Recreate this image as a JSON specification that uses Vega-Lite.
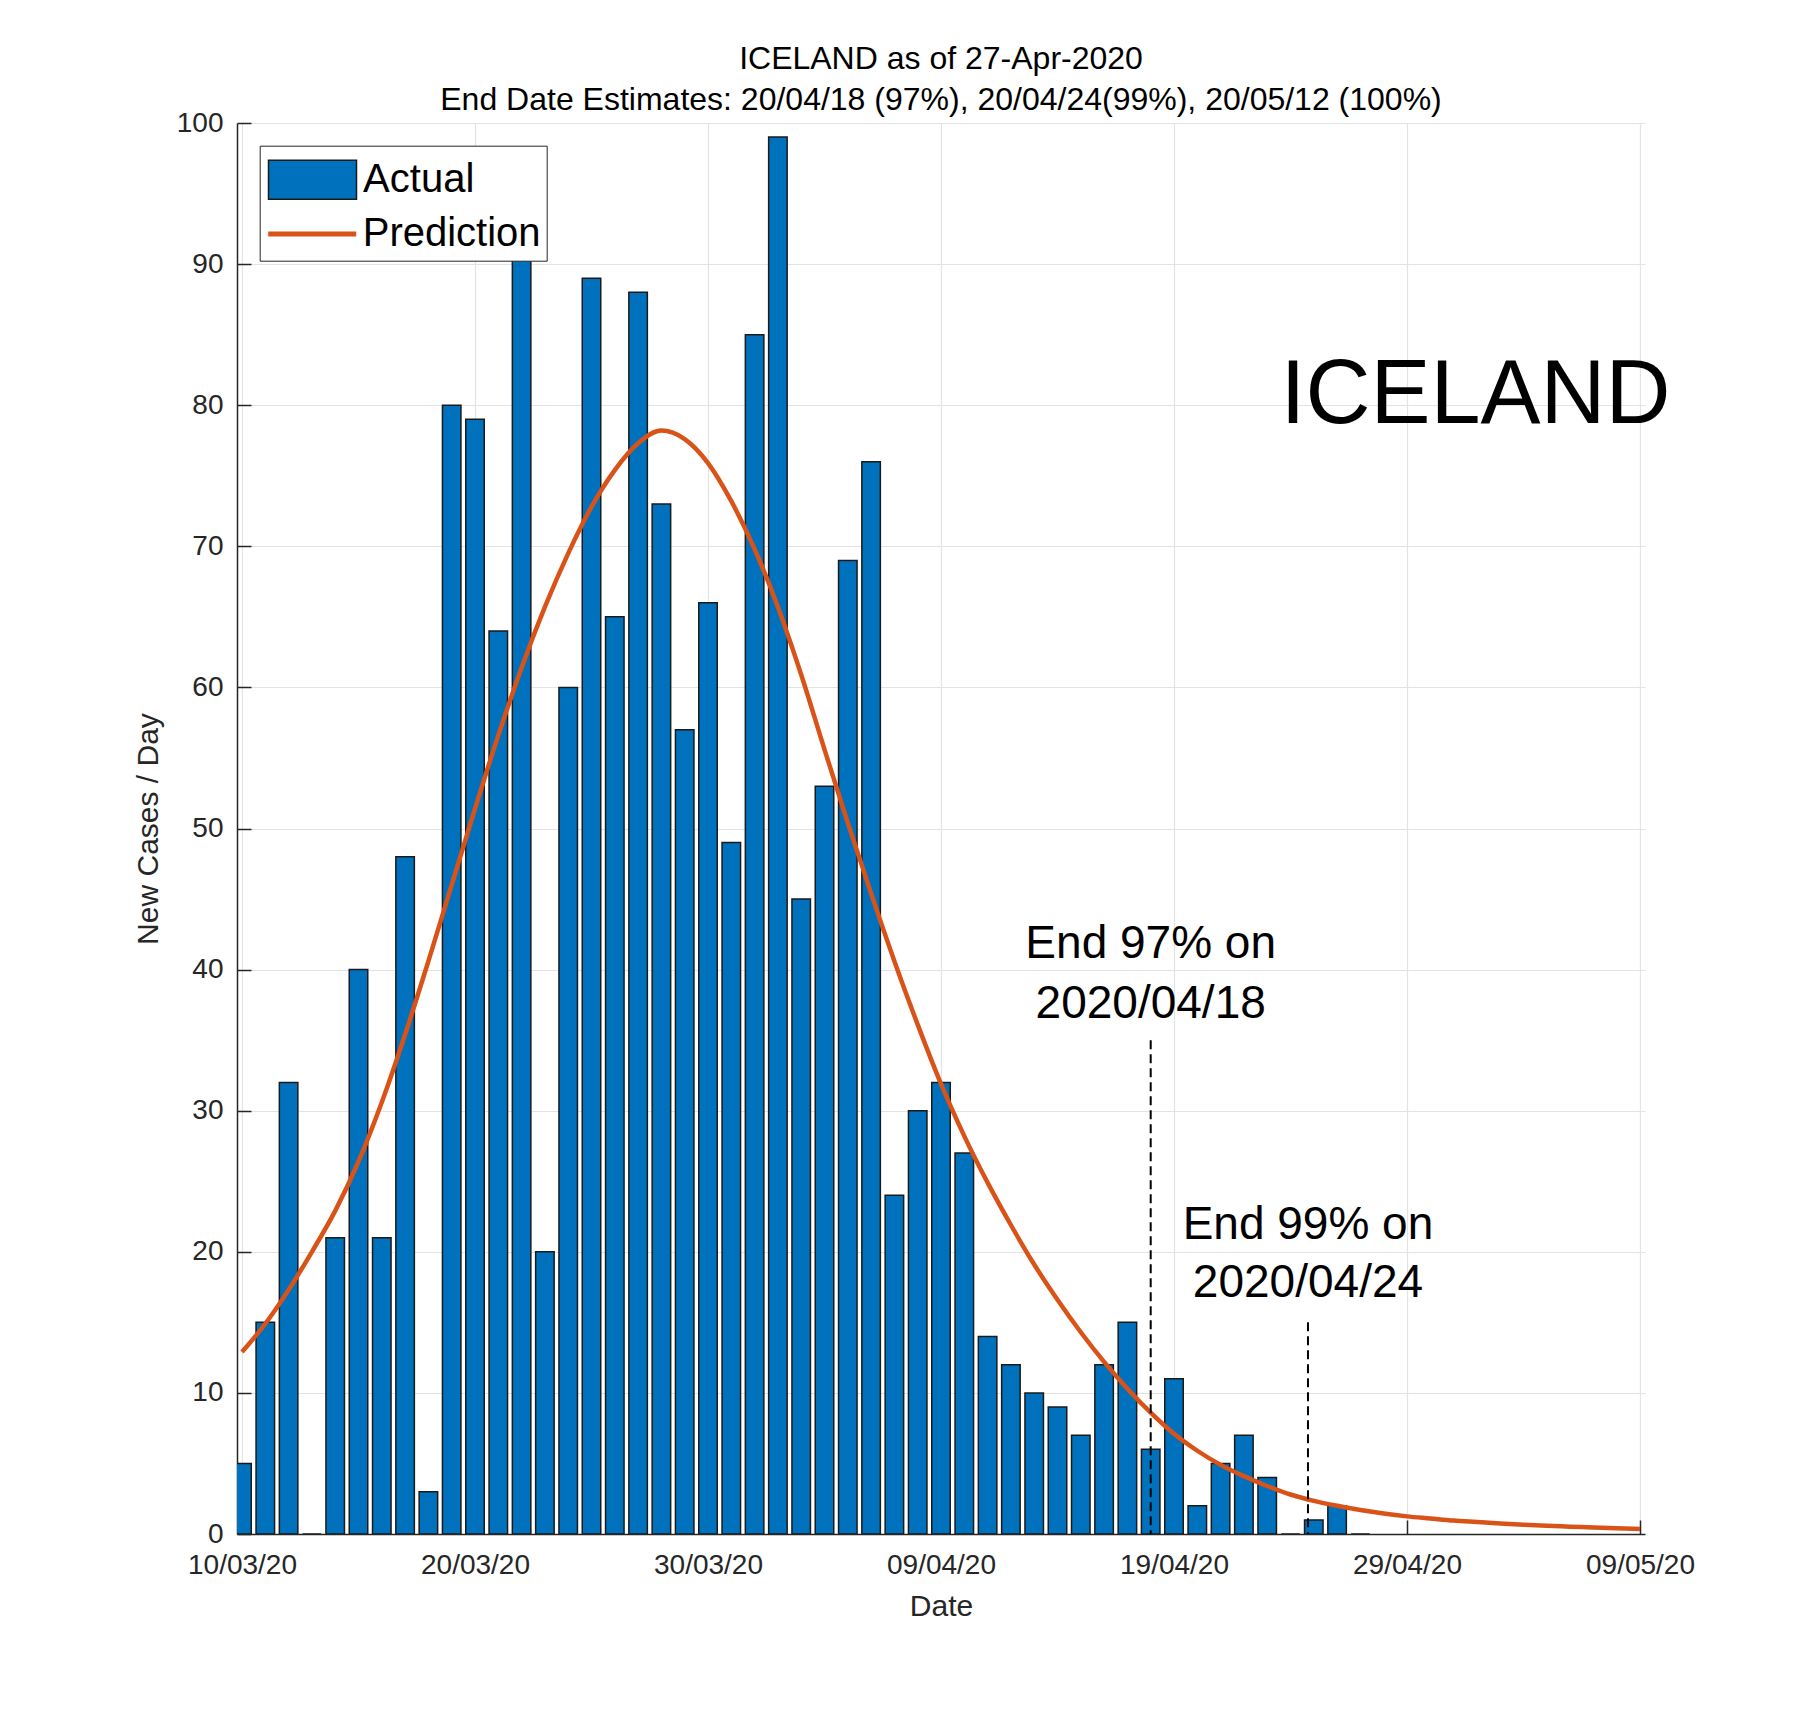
{
  "$schema": "https://vega.github.io/schema/vega-lite/v6.json",
  "autosize": "none",
  "width": 1408,
  "height": 1411,
  "padding": {"left": 237, "top": 123, "right": 162, "bottom": 175},
  "background": "white",
  "title": {
    "text": "ICELAND as of 27-Apr-2020",
    "subtitle": "End Date Estimates: 20/04/18 (97%), 20/04/24(99%), 20/05/12 (100%)",
    "font": "Liberation Sans",
    "subtitleFont": "Liberation Sans",
    "fontSize": 32,
    "subtitleFontSize": 32,
    "fontWeight": "normal",
    "color": "black",
    "subtitleColor": "black",
    "anchor": "middle",
    "frame": "group",
    "offset": -8,
    "subtitlePadding": 9
  },
  "datasets": {
    "cases": [
      {"date": "2020-03-10", "cases": 5},
      {"date": "2020-03-11", "cases": 15},
      {"date": "2020-03-12", "cases": 32},
      {"date": "2020-03-13", "cases": 0},
      {"date": "2020-03-14", "cases": 21},
      {"date": "2020-03-15", "cases": 40},
      {"date": "2020-03-16", "cases": 21},
      {"date": "2020-03-17", "cases": 48},
      {"date": "2020-03-18", "cases": 3},
      {"date": "2020-03-19", "cases": 80},
      {"date": "2020-03-20", "cases": 79},
      {"date": "2020-03-21", "cases": 64},
      {"date": "2020-03-22", "cases": 95},
      {"date": "2020-03-23", "cases": 20},
      {"date": "2020-03-24", "cases": 60},
      {"date": "2020-03-25", "cases": 89},
      {"date": "2020-03-26", "cases": 65},
      {"date": "2020-03-27", "cases": 88},
      {"date": "2020-03-28", "cases": 73},
      {"date": "2020-03-29", "cases": 57},
      {"date": "2020-03-30", "cases": 66},
      {"date": "2020-03-31", "cases": 49},
      {"date": "2020-04-01", "cases": 85},
      {"date": "2020-04-02", "cases": 99},
      {"date": "2020-04-03", "cases": 45},
      {"date": "2020-04-04", "cases": 53},
      {"date": "2020-04-05", "cases": 69},
      {"date": "2020-04-06", "cases": 76},
      {"date": "2020-04-07", "cases": 24},
      {"date": "2020-04-08", "cases": 30},
      {"date": "2020-04-09", "cases": 32},
      {"date": "2020-04-10", "cases": 27},
      {"date": "2020-04-11", "cases": 14},
      {"date": "2020-04-12", "cases": 12},
      {"date": "2020-04-13", "cases": 10},
      {"date": "2020-04-14", "cases": 9},
      {"date": "2020-04-15", "cases": 7},
      {"date": "2020-04-16", "cases": 12},
      {"date": "2020-04-17", "cases": 15},
      {"date": "2020-04-18", "cases": 6},
      {"date": "2020-04-19", "cases": 11},
      {"date": "2020-04-20", "cases": 2},
      {"date": "2020-04-21", "cases": 5},
      {"date": "2020-04-22", "cases": 7},
      {"date": "2020-04-23", "cases": 4},
      {"date": "2020-04-24", "cases": 0},
      {"date": "2020-04-25", "cases": 1},
      {"date": "2020-04-26", "cases": 2},
      {"date": "2020-04-27", "cases": 0}
    ],
    "prediction": [
      {"date": "2020-03-10", "cases": 12.9},
      {"date": "2020-03-11", "cases": 14.9},
      {"date": "2020-03-12", "cases": 17.3},
      {"date": "2020-03-13", "cases": 20.0},
      {"date": "2020-03-14", "cases": 22.9},
      {"date": "2020-03-15", "cases": 26.4},
      {"date": "2020-03-16", "cases": 30.6},
      {"date": "2020-03-17", "cases": 35.4},
      {"date": "2020-03-18", "cases": 40.6},
      {"date": "2020-03-19", "cases": 46.0},
      {"date": "2020-03-20", "cases": 51.4},
      {"date": "2020-03-21", "cases": 56.6},
      {"date": "2020-03-22", "cases": 61.4},
      {"date": "2020-03-23", "cases": 65.7},
      {"date": "2020-03-24", "cases": 69.5},
      {"date": "2020-03-25", "cases": 72.8},
      {"date": "2020-03-26", "cases": 75.4},
      {"date": "2020-03-27", "cases": 77.3},
      {"date": "2020-03-28", "cases": 78.2},
      {"date": "2020-03-29", "cases": 77.6},
      {"date": "2020-03-30", "cases": 75.9},
      {"date": "2020-03-31", "cases": 73.2},
      {"date": "2020-04-01", "cases": 69.8},
      {"date": "2020-04-02", "cases": 65.7},
      {"date": "2020-04-03", "cases": 60.9},
      {"date": "2020-04-04", "cases": 55.6},
      {"date": "2020-04-05", "cases": 50.4},
      {"date": "2020-04-06", "cases": 45.4},
      {"date": "2020-04-07", "cases": 40.6},
      {"date": "2020-04-08", "cases": 36.1},
      {"date": "2020-04-09", "cases": 31.9},
      {"date": "2020-04-10", "cases": 28.2},
      {"date": "2020-04-11", "cases": 24.9},
      {"date": "2020-04-12", "cases": 21.9},
      {"date": "2020-04-13", "cases": 19.1},
      {"date": "2020-04-14", "cases": 16.6},
      {"date": "2020-04-15", "cases": 14.3},
      {"date": "2020-04-16", "cases": 12.2},
      {"date": "2020-04-17", "cases": 10.3},
      {"date": "2020-04-18", "cases": 8.6},
      {"date": "2020-04-19", "cases": 7.1},
      {"date": "2020-04-20", "cases": 5.9},
      {"date": "2020-04-21", "cases": 4.9},
      {"date": "2020-04-22", "cases": 4.1},
      {"date": "2020-04-23", "cases": 3.4},
      {"date": "2020-04-24", "cases": 2.8},
      {"date": "2020-04-25", "cases": 2.35},
      {"date": "2020-04-26", "cases": 2.0},
      {"date": "2020-04-27", "cases": 1.7},
      {"date": "2020-04-28", "cases": 1.45},
      {"date": "2020-04-29", "cases": 1.25},
      {"date": "2020-04-30", "cases": 1.1},
      {"date": "2020-05-01", "cases": 0.95},
      {"date": "2020-05-02", "cases": 0.85},
      {"date": "2020-05-03", "cases": 0.75},
      {"date": "2020-05-04", "cases": 0.66},
      {"date": "2020-05-05", "cases": 0.58},
      {"date": "2020-05-06", "cases": 0.52},
      {"date": "2020-05-07", "cases": 0.46},
      {"date": "2020-05-08", "cases": 0.4},
      {"date": "2020-05-09", "cases": 0.35}
    ],
    "markers": [
      {"date": "2020-04-18T00:00:00Z", "top": 35},
      {"date": "2020-04-24T18:00:00Z", "top": 15}
    ],
    "notes": [
      {"date": "2020-04-18T00:00:00Z", "y": 40.8, "text": "End 97% on"},
      {"date": "2020-04-18T00:00:00Z", "y": 36.6, "text": "2020/04/18"},
      {"date": "2020-04-24T18:00:00Z", "y": 20.9, "text": "End 99% on"},
      {"date": "2020-04-24T18:00:00Z", "y": 16.8, "text": "2020/04/24"}
    ],
    "country": [
      {"date": "2020-05-01T22:30:00Z", "y": 78.75, "text": "ICELAND"}
    ]
  },
  "encoding": {
    "x": {
      "field": "date",
      "type": "temporal",
      "scale": {
        "type": "utc",
        "domain": [
          {"year": 2020, "month": "mar", "date": 10, "utc": true},
          {"year": 2020, "month": "may", "date": 9, "utc": true}
        ]
      },
      "axis": {
        "title": "Date",
        "labelExpr": "utcFormat(datum.value, '%d/%m/%y')",
        "values": [
          {"year": 2020, "month": "mar", "date": 10, "utc": true},
          {"year": 2020, "month": "mar", "date": 20, "utc": true},
          {"year": 2020, "month": "mar", "date": 30, "utc": true},
          {"year": 2020, "month": "apr", "date": 9, "utc": true},
          {"year": 2020, "month": "apr", "date": 19, "utc": true},
          {"year": 2020, "month": "apr", "date": 29, "utc": true},
          {"year": 2020, "month": "may", "date": 9, "utc": true}
        ],
        "labelPadding": 31,
        "titlePadding": 12
      }
    },
    "y": {
      "field": "cases",
      "type": "quantitative",
      "scale": {"domain": [0, 100], "nice": false},
      "axis": {
        "title": "New Cases / Day",
        "values": [0, 10, 20, 30, 40, 50, 60, 70, 80, 90, 100],
        "labelPadding": 28,
        "titlePadding": 13
      }
    }
  },
  "layer": [
    {
      "data": {"name": "cases"},
      "mark": {"type": "bar", "size": 18.5, "stroke": "#1a1a1a", "strokeWidth": 1.5, "clip": true},
      "encoding": {
        "fill": {
          "datum": "Actual",
          "scale": {"domain": ["Actual"], "range": ["#0072BD"]},
          "legend": {
            "title": null,
            "orient": "none",
            "legendX": 22.7,
            "legendY": 24.7,
            "padding": 6,
            "zindex": 2,
            "symbolType": "M-1.76,-0.78H1.76V0.78H-1.76Z",
            "symbolStrokeColor": "#1a1a1a",
            "symbolStrokeWidth": 1.5,
            "symbolOpacity": 1,
            "symbolOffset": 20.8,
            "labelOffset": 24.6
          }
        }
      }
    },
    {
      "data": {"name": "prediction"},
      "mark": {"type": "line", "strokeWidth": 4.5, "interpolate": "monotone", "clip": true},
      "encoding": {
        "stroke": {
          "datum": "Prediction",
          "scale": {"domain": ["Prediction"], "range": ["#D95319"]},
          "legend": {
            "title": "\u00a0\u00a0\u00a0\u00a0\u00a0\u00a0\u00a0\u00a0\u00a0\u00a0\u00a0\u00a0\u00a0\u00a0\u00a0\u00a0\u00a0\u00a0\u00a0\u00a0\u00a0\u00a0\u00a0\u00a0\u00a0",
            "titleFontSize": 40.6,
            "titlePadding": 14.1,
            "titleLimit": 1000,
            "orient": "none",
            "legendX": 22.7,
            "legendY": 22.7,
            "padding": 6,
            "zindex": 1,
            "fillColor": "white",
            "strokeColor": "#262626",
            "symbolType": "M-1.76,0H1.76",
            "symbolStrokeWidth": 5,
            "symbolOpacity": 1,
            "symbolOffset": 19,
            "labelOffset": 23
          }
        }
      }
    },
    {
      "data": {"name": "markers"},
      "mark": {"type": "rule", "color": "black", "strokeWidth": 2, "strokeDash": [9, 5]},
      "encoding": {
        "y": {"field": "top", "type": "quantitative"},
        "y2": {"datum": 0}
      }
    },
    {
      "data": {"name": "notes"},
      "mark": {"type": "text", "font": "Liberation Sans", "fontSize": 46, "color": "black", "align": "center", "baseline": "alphabetic"},
      "encoding": {
        "y": {"field": "y", "type": "quantitative"},
        "text": {"field": "text"}
      }
    },
    {
      "data": {"name": "country"},
      "mark": {"type": "text", "font": "Liberation Sans", "fontSize": 90, "color": "black", "align": "center", "baseline": "alphabetic"},
      "encoding": {
        "y": {"field": "y", "type": "quantitative"},
        "text": {"field": "text"}
      }
    }
  ],
  "config": {
    "view": {"stroke": null},
    "axis": {
      "labelFont": "Liberation Sans",
      "labelFontSize": 28,
      "labelColor": "#262626",
      "titleFont": "Liberation Sans",
      "titleFontSize": 30,
      "titleFontWeight": "normal",
      "titleColor": "#262626",
      "domainColor": "#262626",
      "domainWidth": 1.5,
      "tickColor": "#262626",
      "tickWidth": 1.5,
      "tickSize": -14,
      "grid": true,
      "gridColor": "#e3e3e3",
      "gridWidth": 1.2,
      "labelFlush": false,
      "labelOverlap": false
    },
    "legend": {
      "labelFont": "Liberation Sans",
      "labelFontSize": 40,
      "labelColor": "black",
      "labelLimit": 400,
      "titleFont": "Liberation Sans",
      "symbolSize": 2500
    }
  }
}
